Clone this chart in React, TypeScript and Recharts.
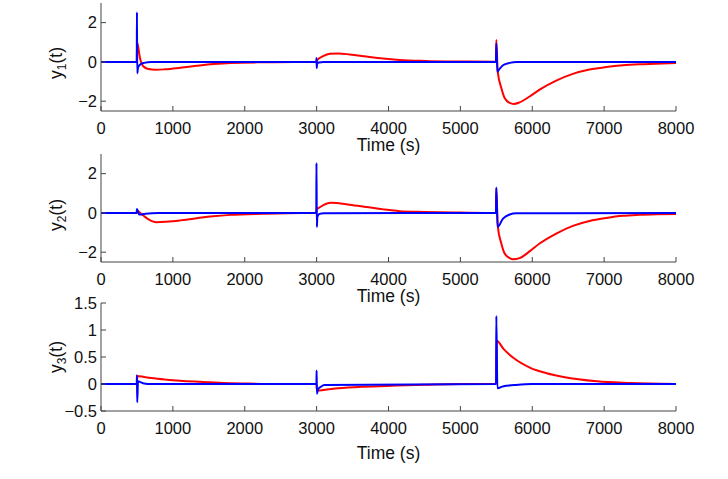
import React from "react";
import { LineChart, Line, XAxis, YAxis } from "recharts";

const timeTicks = [0, 1000, 2000, 3000, 4000, 5000, 6000, 7000, 8000];
const y12Ticks = [-2, 0, 2];
const y3Ticks = [-0.5, 0, 0.5, 1, 1.5];

// y1(t)
const y1RedTime = [0, 498, 502, 542, 588, 657, 760, 880, 1000, 1100, 1330, 1560, 1800, 2250, 2700, 3000, 3010, 3090, 3183, 3300, 3460, 3693, 3924, 4155, 4500, 5000, 5495, 5500, 5519, 5570, 5616, 5686, 5741, 5824, 5963, 6102, 6334, 6565, 6797, 7029, 7260, 7492, 7724, 8000];
const y1Red = [0, 0, 1.0, 0.2, -0.22, -0.36, -0.4, -0.38, -0.34, -0.3, -0.2, -0.11, -0.05, -0.02, -0.01, 0, 0.1, 0.29, 0.41, 0.43, 0.38, 0.27, 0.17, 0.1, 0.05, 0.02, 0.01, 1.12, -0.48, -1.33, -1.84, -2.09, -2.14, -2.06, -1.76, -1.41, -0.95, -0.61, -0.39, -0.26, -0.17, -0.12, -0.09, -0.05];
const y1BlueTime = [0, 498, 500, 504, 515, 542, 600, 700, 2995, 2998, 3002, 3006, 3030, 3100, 5495, 5500, 5515, 5540, 5593, 5686, 5780, 8000];
const y1Blue = [0, 0, 2.53, -0.58, -0.3, -0.14, -0.05, 0, 0, 0.2, -0.32, -0.1, -0.03, 0, 0, 0.95, -0.5, -0.38, -0.17, -0.05, 0, 0];

// y2(t)
const y2RedTime = [0, 500, 510, 560, 588, 650, 773, 900, 1000, 1100, 1330, 1560, 1800, 2250, 2800, 2995, 3000, 3050, 3206, 3460, 3693, 3924, 4155, 4500, 5000, 5495, 5500, 5519, 5570, 5616, 5686, 5732, 5824, 5963, 6102, 6334, 6565, 6797, 7029, 7260, 7492, 7724, 8000];
const y2Red = [0, 0, 0.1, -0.05, -0.13, -0.3, -0.47, -0.45, -0.42, -0.38, -0.27, -0.17, -0.1, -0.04, 0, 0, 0.16, 0.3, 0.52, 0.42, 0.3, 0.18, 0.09, 0.05, 0.02, 0, 1.23, -0.63, -1.56, -2.07, -2.3, -2.36, -2.3, -1.96, -1.56, -1.05, -0.66, -0.41, -0.26, -0.15, -0.1, -0.07, -0.05];
const y2BlueTime = [0, 495, 500, 510, 530, 560, 620, 800, 2995, 2998, 3003, 3010, 3040, 3100, 5495, 5500, 5519, 5593, 5686, 5780, 8000];
const y2Blue = [0, 0, 0.2, 0.12, -0.08, -0.08, -0.04, 0, 0, 2.54, -0.72, -0.2, -0.05, -0.02, 0, 1.3, -0.71, -0.29, -0.08, -0.02, 0];

// y3(t)
const y3RedTime = [0, 500, 505, 600, 700, 912, 1100, 1376, 1700, 2000, 2500, 2997, 3005, 3100, 3300, 3650, 4115, 4500, 5000, 5497, 5505, 5600, 5741, 5973, 6200, 6436, 6900, 7363, 8000];
const y3Red = [0, 0, 0.15, 0.13, 0.11, 0.08, 0.06, 0.04, 0.02, 0.01, 0, 0, -0.12, -0.11, -0.08, -0.05, -0.03, -0.015, 0, 0, 0.8, 0.65, 0.48, 0.3, 0.2, 0.13, 0.05, 0.02, 0];
const y3BlueTime = [0, 497, 500, 504, 515, 540, 600, 700, 2997, 3000, 3004, 3020, 3060, 3110, 5497, 5500, 5515, 5600, 5750, 6000, 8000];
const y3Blue = [0, 0, 0.16, -0.34, 0.05, 0.04, 0.01, 0, 0, 0.25, -0.18, -0.1, -0.05, -0.02, 0, 1.26, -0.08, -0.04, -0.02, 0, 0];

const FONT = '"Liberation Sans", Arial, Helvetica, sans-serif';

const toPoints = (t: number[], v: number[]) => t.map((x, i) => ({ t: x, v: v[i] }));
const fmt = (v: number) => String(v).replace("-", "\u2212");

function TimeLabel({ viewBox, dy }: any) {
  const cx = viewBox.x + viewBox.width / 2;
  return (
    <text x={cx} y={viewBox.y + dy} textAnchor="middle" fontSize={17.5} fill="#111" fontFamily={FONT}>
      Time (s)
    </text>
  );
}

function YLabel({ viewBox, sub, shift }: any) {
  const x = 62;
  const y = viewBox.y + viewBox.height / 2 + shift;
  return (
    <text transform={`rotate(-90 ${x} ${y})`} x={x} y={y} textAnchor="middle" fontSize={17.5} fill="#111" fontFamily={FONT}>
      y<tspan fontSize={12} dy={4}>{sub}</tspan>
      <tspan dy={-4}>(t)</tspan>
    </text>
  );
}

const panels = [
  { top: -9, sub: "1", shift: 6, labelDy: 40, red: toPoints(y1RedTime, y1Red), blue: toPoints(y1BlueTime, y1Blue), domain: [-2.5, 3], ticks: y12Ticks },
  { top: 142, sub: "2", shift: 7, labelDy: 40, red: toPoints(y2RedTime, y2Red), blue: toPoints(y2BlueTime, y2Blue), domain: [-2.5, 3], ticks: y12Ticks },
  { top: 291, sub: "3", shift: 0, labelDy: 48, red: toPoints(y3RedTime, y3Red), blue: toPoints(y3BlueTime, y3Blue), domain: [-0.5, 1.5], ticks: y3Ticks },
];

export default function App() {
  return (
    <div style={{ position: "absolute", left: 0, top: 0, width: 728, height: 479, background: "#fff", overflow: "hidden" }}>
      {panels.map((p) => (
        <div key={p.sub} style={{ position: "absolute", left: 0, top: p.top }}>
          <LineChart width={728} height={175} margin={{ top: 12, right: 52, bottom: 0, left: 0 }}>
            <XAxis
              type="number"
              dataKey="t"
              domain={[0, 8000]}
              ticks={timeTicks}
              interval={0}
              height={55}
              stroke="#444"
              tickSize={-5}
              tickMargin={16}
              tick={{ fill: "#111", fontSize: 16.5, fontFamily: FONT }}
              label={<TimeLabel dy={p.labelDy} />}
            />
            <YAxis
              type="number"
              domain={p.domain}
              ticks={p.ticks}
              interval={0}
              width={101}
              stroke="#444"
              tickSize={-5}
              tickMargin={9}
              tickFormatter={fmt}
              tick={{ fill: "#111", fontSize: 16.5, fontFamily: FONT }}
              label={<YLabel sub={p.sub} shift={p.shift} />}
            />
            <Line data={p.red} dataKey="v" type="monotone" stroke="#ff0000" strokeWidth={2} dot={false} isAnimationActive={false} />
            <Line data={p.blue} dataKey="v" type="monotone" stroke="#0000ff" strokeWidth={2} dot={false} isAnimationActive={false} />
          </LineChart>
        </div>
      ))}
    </div>
  );
}
